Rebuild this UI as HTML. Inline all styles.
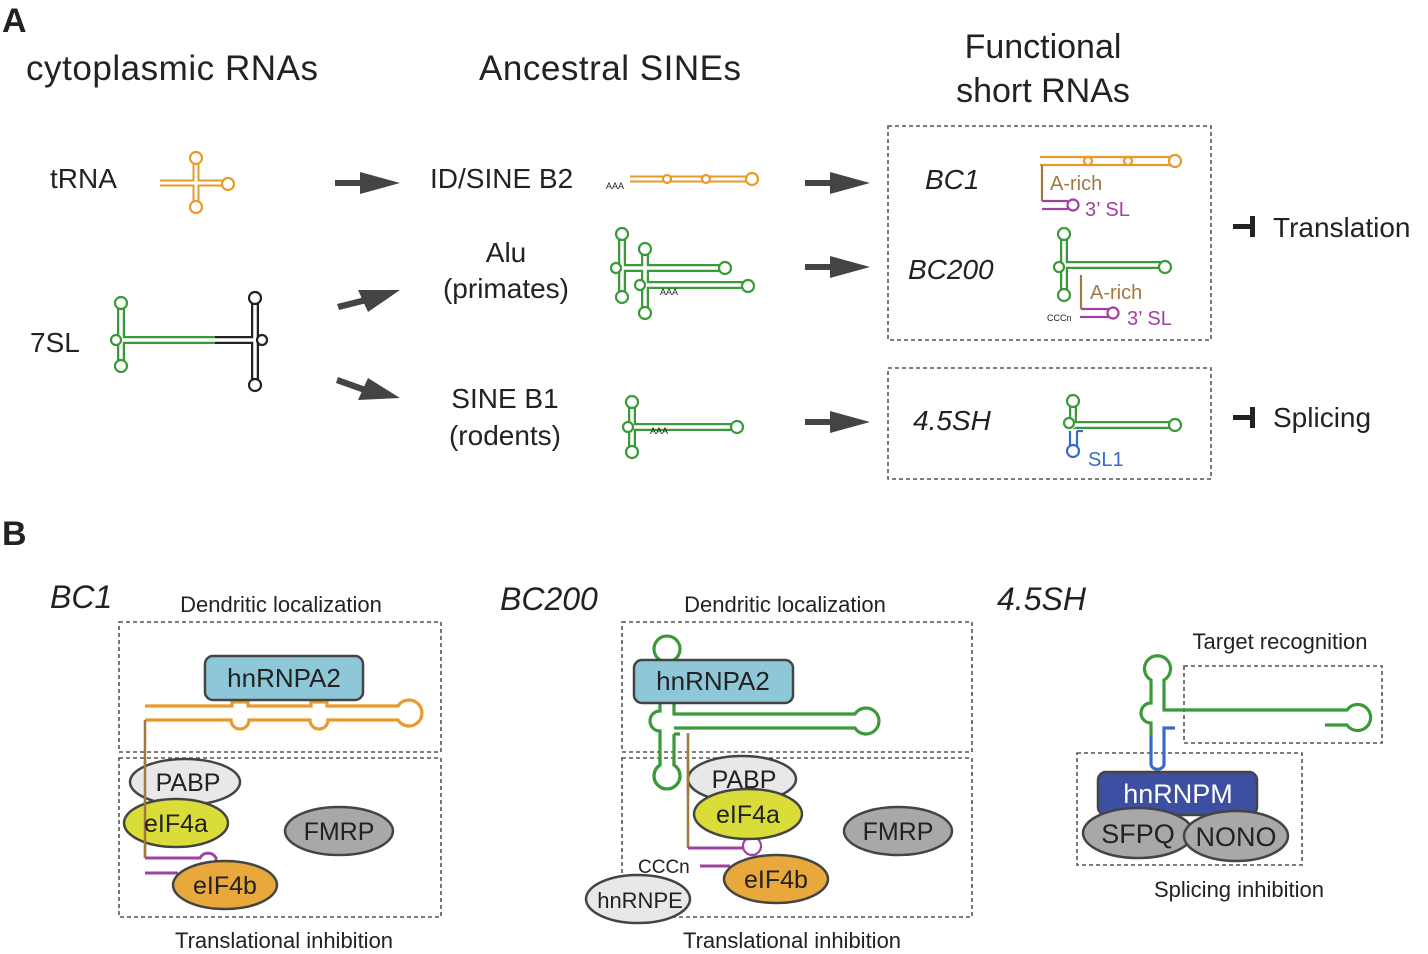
<!DOCTYPE html>
<html><head><meta charset="utf-8"><style>
body{margin:0;background:#fff}
svg{display:block}
text{font-family:"Liberation Sans",Arial,sans-serif;fill:#222}
.it{font-style:italic}
.c{text-anchor:middle}
.lp{fill:#fff;stroke-width:2.2}
.w{stroke:#fff;fill:none}
.st{fill:none}
.box{fill:none;stroke:#555;stroke-width:1.6;stroke-dasharray:4 3}
.arr{fill:#444;stroke:none}
</style></head><body>
<svg width="1428" height="954" viewBox="0 0 1428 954" xmlns="http://www.w3.org/2000/svg">
<text x="2" y="32" font-size="34" font-weight="bold">A</text>
<text x="172" y="80" font-size="35" class="c" textLength="292">cytoplasmic RNAs</text>
<text x="610" y="80" font-size="35" class="c" textLength="262">Ancestral SINEs</text>
<text x="1043" y="58" font-size="34" class="c">Functional</text>
<text x="1043" y="102" font-size="34" class="c">short RNAs</text>

<text x="50" y="188" font-size="28">tRNA</text>
<text x="30" y="352" font-size="28">7SL</text>
<text x="430" y="188" font-size="28">ID/SINE B2</text>
<text x="506" y="262" font-size="28" class="c">Alu</text>
<text x="506" y="298" font-size="28" class="c">(primates)</text>
<text x="505" y="408" font-size="28" class="c">SINE B1</text>
<text x="505" y="445" font-size="28" class="c">(rodents)</text>

<g class="arr">
<rect x="335" y="180" width="30" height="6"/><polygon points="360,172 400,183 360,194"/>
<rect x="805" y="180" width="30" height="6"/><polygon points="830,172 870,183 830,194"/>
<rect x="805" y="264" width="30" height="6"/><polygon points="830,256 870,267 830,278"/>
<rect x="805" y="419" width="30" height="6"/><polygon points="830,411 870,422 830,433"/>
<polygon points="337,304 365,297 367,303 339,310"/><polygon points="358,290 400,290 368,312"/>
<polygon points="338,377 366,387 364,393 336,383"/><polygon points="368,378 400,398 358,400"/>
</g>

<g stroke="#e89a2c">
<path class="st" d="M160 183H227M196 158V207" stroke-width="7"/>
<path class="w" d="M160 183H227M196 158V207" stroke-width="3"/>
<circle class="lp" cx="196" cy="158" r="6"/><circle class="lp" cx="196" cy="207" r="6"/><circle class="lp" cx="228" cy="184" r="6"/>
</g>
<g>
<path class="st" d="M121 303V366M121 340H220" stroke="#3a9a3a" stroke-width="8"/>
<path class="st" d="M215 340H255M255 298V385" stroke="#222" stroke-width="8"/>
<path class="w" d="M121 303V366M121 340H255M255 298V385" stroke-width="3.5"/>
<circle class="lp" stroke="#3a9a3a" cx="121" cy="303" r="6"/><circle class="lp" stroke="#3a9a3a" cx="121" cy="366" r="6"/><circle class="lp" stroke="#3a9a3a" cx="116" cy="340" r="5"/>
<circle class="lp" stroke="#222" cx="255" cy="298" r="6"/><circle class="lp" stroke="#222" cx="255" cy="385" r="6"/><circle class="lp" stroke="#222" cx="262" cy="340" r="5"/>
</g>
<g stroke="#e89a2c">
<path class="st" d="M630 179H750" stroke-width="7"/><path class="w" d="M620 179H750" stroke-width="3"/>
<circle class="lp" cx="667" cy="179" r="4"/><circle class="lp" cx="706" cy="179" r="4"/><circle class="lp" cx="752" cy="179" r="6"/>
</g>
<text x="606" y="189" font-size="9">AAA</text>
<g stroke="#3a9a3a">
<path class="st" d="M622 235V296M622 268H723M645 250V312M645 285H745" stroke-width="8"/>
<path class="w" d="M622 235V296M622 268H723M645 250V312M645 285H745" stroke-width="3.5"/>
<circle class="lp" cx="622" cy="234" r="6"/><circle class="lp" cx="622" cy="297" r="6"/><circle class="lp" cx="616" cy="268" r="5"/>
<circle class="lp" cx="645" cy="249" r="6"/><circle class="lp" cx="645" cy="313" r="6"/><circle class="lp" cx="640" cy="285" r="5"/>
<circle class="lp" cx="725" cy="268" r="6"/><circle class="lp" cx="748" cy="286" r="6"/>
</g>
<text x="660" y="295" font-size="9">AAA</text>
<g stroke="#3a9a3a">
<path class="st" d="M632 403V452M632 427H735" stroke-width="8"/>
<path class="w" d="M632 403V452M632 427H735" stroke-width="3.5"/>
<circle class="lp" cx="632" cy="402" r="6"/><circle class="lp" cx="632" cy="452" r="6"/><circle class="lp" cx="628" cy="427" r="5"/><circle class="lp" cx="737" cy="427" r="6"/>
</g>
<text x="650" y="434" font-size="9">AAA</text>

<rect class="box" x="888" y="126" width="323" height="214"/>
<rect class="box" x="888" y="368" width="323" height="111"/>
<text x="925" y="189" font-size="28" class="it">BC1</text>
<text x="908" y="279" font-size="28" class="it">BC200</text>
<text x="913" y="430" font-size="28" class="it">4.5SH</text>
<g>
<path class="st" d="M1040 157H1175M1040 165H1175" stroke="#e89a2c" stroke-width="2.2"/>
<circle class="lp" stroke="#e89a2c" cx="1088" cy="161" r="4"/><circle class="lp" stroke="#e89a2c" cx="1128" cy="161" r="4"/><circle class="lp" stroke="#e89a2c" cx="1175" cy="161" r="6"/>
<path class="st" d="M1042 165V201" stroke="#a07840" stroke-width="2.2"/>
<path class="st" d="M1042 201H1068M1042 209H1068" stroke="#a040a0" stroke-width="2.2"/>
<circle class="lp" stroke="#a040a0" cx="1073" cy="205" r="5.5"/>
<text x="1050" y="190" font-size="20" style="fill:#a07840">A-rich</text>
<text x="1085" y="216" font-size="20" style="fill:#a040a0">3’ SL</text>
</g>
<g stroke="#3a9a3a">
<path class="st" d="M1064 235V292M1064 265H1165" stroke-width="8"/>
<path class="w" d="M1064 235V292M1064 265H1165" stroke-width="3.5"/>
<circle class="lp" cx="1064" cy="234" r="6"/><circle class="lp" cx="1064" cy="295" r="6"/><circle class="lp" cx="1059" cy="267" r="5"/><circle class="lp" cx="1165" cy="267" r="6"/>
</g>
<path class="st" d="M1081 275V309" stroke="#a07840" stroke-width="2.2"/>
<path class="st" d="M1081 309H1110M1080 317H1110" stroke="#a040a0" stroke-width="2.2"/>
<circle class="lp" stroke="#a040a0" cx="1113" cy="313" r="5.5"/>
<text x="1090" y="299" font-size="20" style="fill:#a07840">A-rich</text>
<text x="1127" y="325" font-size="20" style="fill:#a040a0">3’ SL</text>
<text x="1047" y="321" font-size="9">CCCn</text>
<g stroke="#3a9a3a">
<path class="st" d="M1073 402V428M1073 425H1175" stroke-width="8"/>
<path class="w" d="M1073 402V428M1073 425H1175" stroke-width="3.5"/>
<circle class="lp" cx="1073" cy="401" r="6"/><circle class="lp" cx="1069" cy="423" r="5"/><circle class="lp" cx="1175" cy="425" r="6"/>
</g>
<path class="st" d="M1070 431V447M1077 431H1083M1077 431V447" stroke="#3a6ac8" stroke-width="2.2"/>
<circle class="lp" stroke="#3a6ac8" cx="1073" cy="451" r="6"/>
<text x="1088" y="466" font-size="20" style="fill:#3a6ac8">SL1</text>

<rect x="1233" y="224" width="20" height="5" fill="#222"/><rect x="1250" y="216" width="5" height="21" fill="#222"/>
<text x="1273" y="237" font-size="28">Translation</text>
<rect x="1233" y="415" width="20" height="5" fill="#222"/><rect x="1250" y="407" width="5" height="21" fill="#222"/>
<text x="1273" y="427" font-size="28">Splicing</text>

<text x="2" y="545" font-size="34" font-weight="bold">B</text>
<text x="50" y="608" font-size="32" class="it">BC1</text>
<text x="500" y="610" font-size="32" class="it">BC200</text>
<text x="997" y="610" font-size="32" class="it">4.5SH</text>
<text x="281" y="612" font-size="22" class="c">Dendritic localization</text>
<text x="785" y="612" font-size="22" class="c">Dendritic localization</text>
<text x="284" y="948" font-size="22" class="c">Translational inhibition</text>
<text x="792" y="948" font-size="22" class="c">Translational inhibition</text>
<text x="1280" y="649" font-size="22" class="c">Target recognition</text>
<text x="1239" y="897" font-size="22" class="c">Splicing inhibition</text>

<rect class="box" x="119" y="622" width="322" height="130"/>
<rect class="box" x="119" y="758" width="322" height="159"/>
<rect class="box" x="622" y="622" width="350" height="130"/>
<rect class="box" x="622" y="758" width="350" height="159"/>
<rect class="box" x="1184" y="666" width="198" height="77"/>
<rect class="box" x="1077" y="753" width="225" height="112"/>

<!-- BC1 B -->
<path class="st" stroke="#e89a2c" stroke-width="3.2" d="M145 706H232V702H248V706H311V702H327V706H398A13 13 0 1 1 398 720H328A9 9 0 0 1 310 720H249A9 9 0 0 1 231 720H145"/>
<path class="st" d="M145 720V858" stroke="#a07840" stroke-width="2.5"/>
<path class="st" d="M145 858H200A9 9 0 0 1 216 858V862M145 873H178" stroke="#a040a0" stroke-width="3"/>
<rect x="205" y="656" width="158" height="44" rx="8" fill="#8ec8d8" stroke="#444" stroke-width="2.5"/>
<text x="284" y="687" font-size="26" class="c">hnRNPA2</text>
<g stroke="#444" stroke-width="2.5">
<ellipse cx="185" cy="782" rx="55" ry="23" fill="#e8e8e8"/>
<ellipse cx="176" cy="823" rx="52" ry="24" fill="#dadc3a"/>
<ellipse cx="339" cy="831" rx="54" ry="24" fill="#a8a8a8"/>
<ellipse cx="225" cy="885" rx="52" ry="24" fill="#e8a83c"/>
</g>
<path class="st" d="M145 760V858" stroke="#a07840" stroke-width="2.5"/>
<text x="188" y="791" font-size="25" class="c">PABP</text>
<text x="176" y="832" font-size="25" class="c">eIF4a</text>
<text x="339" y="840" font-size="25" class="c">FMRP</text>
<text x="225" y="894" font-size="25" class="c">eIF4b</text>

<!-- BC200 B -->
<path class="st" stroke="#3a9a3a" stroke-width="3.2" d="M660 660A13 13 0 1 1 674 660V714H855A13 13 0 1 1 855 728H674"/>
<path class="st" stroke="#3a9a3a" stroke-width="3.2" d="M674 734H680M674 734V765A13 13 0 1 1 660 765V731A10 10 0 0 1 660 711V660"/>
<rect x="634" y="660" width="159" height="43" rx="8" fill="#8ec8d8" stroke="#444" stroke-width="2.5"/>
<text x="713" y="690" font-size="26" class="c">hnRNPA2</text>
<path class="st" d="M688 733V848" stroke="#a07840" stroke-width="2.5"/>
<path class="st" d="M688 848H745M700 866H730" stroke="#a040a0" stroke-width="3"/>
<circle class="lp" stroke="#a040a0" stroke-width="3" cx="752" cy="846" r="9"/>
<g stroke="#444" stroke-width="2.5">
<ellipse cx="742" cy="779" rx="54" ry="23" fill="#e8e8e8"/>
<ellipse cx="748" cy="814" rx="54" ry="25" fill="#dadc3a"/>
<ellipse cx="898" cy="831" rx="54" ry="24" fill="#a8a8a8"/>
<ellipse cx="776" cy="879" rx="52" ry="24" fill="#e8a83c"/>
<ellipse cx="638" cy="899" rx="52" ry="24" fill="#e8e8e8"/>
</g>
<path class="st" stroke="#3a9a3a" stroke-width="3.2" d="M674 760V765A13 13 0 1 1 660 765V760"/>
<path class="st" d="M688 760V795" stroke="#a07840" stroke-width="2.5"/>
<text x="744" y="788" font-size="25" class="c">PABP</text>
<text x="748" y="823" font-size="25" class="c">eIF4a</text>
<text x="898" y="840" font-size="25" class="c">FMRP</text>
<text x="776" y="888" font-size="25" class="c">eIF4b</text>
<text x="640" y="908" font-size="22" class="c">hnRNPE</text>
<text x="638" y="873" font-size="19">CCCn</text>

<!-- 4.5SH B -->
<path class="st" stroke="#3a9a3a" stroke-width="3.2" d="M1151 735V723A10 10 0 0 1 1151 703V680A13 13 0 1 1 1164 680V710H1347A13 13 0 1 1 1347 725H1325"/>
<path class="st" stroke="#3a6ac8" stroke-width="3.2" d="M1151 735V765A7 7 0 0 0 1164 765V728H1175"/>
<rect x="1098" y="772" width="159" height="43" rx="8" fill="#3c4fa0" stroke="#444" stroke-width="2.5"/>
<text x="1178" y="803" font-size="27" class="c" style="fill:#fff">hnRNPM</text>
<g stroke="#444" stroke-width="2.5" fill="#a8a8a8">
<ellipse cx="1138" cy="833" rx="55" ry="25"/>
<ellipse cx="1236" cy="836" rx="52" ry="25"/>
</g>
<text x="1138" y="843" font-size="27" class="c">SFPQ</text>
<text x="1236" y="846" font-size="27" class="c">NONO</text>
</svg>
</body></html>
